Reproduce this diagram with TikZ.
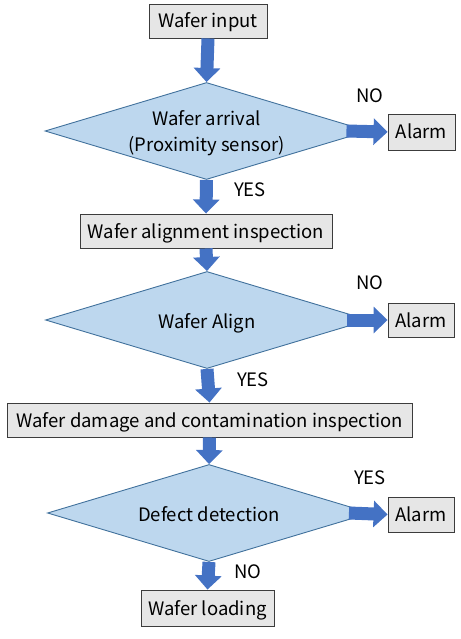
\documentclass[tikz,border=0pt]{standalone}
\usepackage{fontspec}
\setmainfont{Noto Sans CJK KR}
\usetikzlibrary{shapes.geometric,arrows.meta}
\definecolor{dfill}{RGB}{189,215,238}
\definecolor{ddraw}{RGB}{65,113,156}
\definecolor{bfill}{RGB}{230,230,230}
\definecolor{bdraw}{RGB}{60,60,60}
\definecolor{arr}{RGB}{68,114,196}
\tikzset{
  procbox/.style={draw=bdraw, fill=bfill, line width=0.9pt, inner sep=0pt, minimum height=34pt, text height=16pt, text depth=2pt, font=\fontsize{18.5}{20}\selectfont},
  decision/.style={diamond, draw=ddraw, fill=dfill, line width=0.9pt, inner sep=0pt, aspect=3.3, minimum width=323pt, minimum height=97pt, font=\fontsize{18.5}{26}\selectfont, align=center},
  lbl/.style={font=\fontsize{18.5}{20}\selectfont, inner sep=0pt},
  blk/.style={arr, line width=13pt, -{Triangle[length=14pt,width=26pt]}},
}
\begin{document}
\begin{tikzpicture}[x=1pt,y=-1pt]
\useasboundingbox (0,0) rectangle (460,639);
\node[procbox, minimum width=118pt] (in) at (208,21) {Wafer input};
\node[decision] (d1) at (206.5,131) {\raisebox{-20.5pt}[0pt][0pt]{\begin{tabular}[b]{@{}c@{}}Wafer arrival\\(Proximity sensor)\end{tabular}}};
\node[procbox, minimum width=67pt, minimum height=36pt] (a1) at (421.5,132) {Alarm};
\node[lbl] (no1) at (370,96) {NO};
\node[lbl] (yes1) at (250,190) {YES};
\node[procbox, minimum width=252pt] (b2) at (206,231) {Wafer alignment inspection};
\node[decision] (d2) at (207,320) {\raisebox{-8pt}[0pt][0pt]{Wafer Align}};
\node[procbox, minimum width=66pt] (a2) at (421,320) {Alarm};
\node[lbl] (no2) at (370,283) {NO};
\node[lbl] (yes2) at (253,380) {YES};
\node[procbox, minimum width=405pt] (b3) at (209.5,420) {Wafer damage and contamination inspection};
\node[decision] (d3) at (209,513) {\raisebox{-8pt}[0pt][0pt]{Defect detection}};
\node[procbox, minimum width=66pt, minimum height=35pt] (a3) at (421,514.5) {Alarm};
\node[lbl] (yes3) at (370,478) {YES};
\node[lbl] (no3) at (248,572) {NO};
\node[procbox, minimum width=133pt, minimum height=36pt] (b4) at (207.5,608) {Wafer loading};
\draw[blk] (in.south) -- (d1.north);
\draw[blk] (d1.south) -- (b2.north);
\draw[blk] (b2.south) -- (d2.north);
\draw[blk] (d2.south) -- (b3.north);
\draw[blk] (b3.south) -- (d3.north);
\draw[blk] (d3.south) -- (b4.north);
\draw[blk] ([xshift=-22pt]d1.east) -- (a1.west);
\draw[blk] ([xshift=-22pt]d2.east) -- (a2.west);
\draw[blk] ([xshift=-22pt]d3.east) -- (a3.west);
\end{tikzpicture}
\end{document}
